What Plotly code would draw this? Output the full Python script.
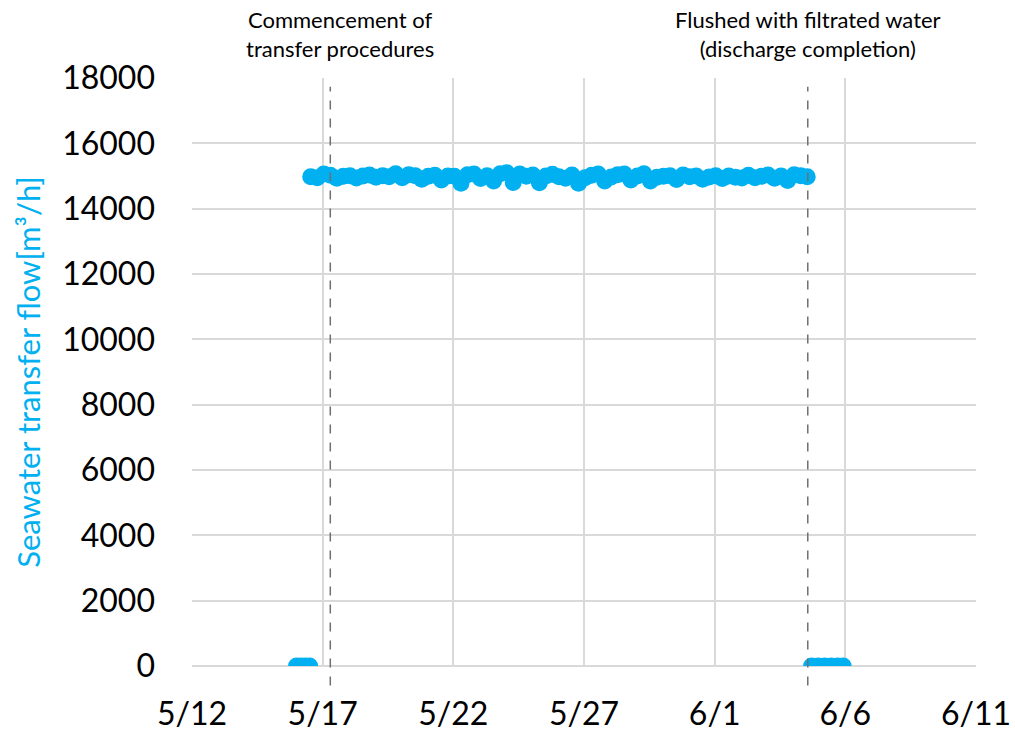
import pandas as pd
import plotly.graph_objects as go

# flow before transfer (all zero)
pre_times = ["2023-05-16 00:00", "2023-05-16 04:00", "2023-05-16 08:00", "2023-05-16 12:00"]
pre_flow = [0, 0, 0, 0]

# transfer period, one reading every 6 hours from 5/16 13:00 to 6/4 13:00
flow_times = pd.date_range("2023-05-16 13:00", "2023-06-04 13:00", freq="6h")
flow = [
    14980, 14950, 15060, 15020, 14930, 14990, 15010, 14940,
    15000, 15030, 14960, 15010, 14980, 15070, 14950, 15040,
    15010, 14900, 14990, 15020, 14880, 15000, 14990, 14780,
    15040, 15060, 14920, 15010, 14850, 15070, 15100, 14800,
    15060, 14990, 15030, 14790, 15000, 15050, 14980, 14930,
    15030, 14780, 14950, 15020, 15060, 14850, 14970, 15040,
    15060, 14880, 15000, 15070, 14850, 14960, 14990, 15010,
    14890, 15030, 14980, 15000, 14900, 14970, 15010, 14920,
    15000, 14960, 14940, 15020, 14950, 14990, 15030, 14930,
    15000, 14860, 15040, 15010, 14980,
]

# after discharge completion (all zero)
post_times = ["2023-06-04 17:00", "2023-06-04 23:00", "2023-06-05 05:00",
              "2023-06-05 11:00", "2023-06-05 17:00", "2023-06-05 22:00"]
post_flow = [0, 0, 0, 0, 0, 0]

events = ["2023-05-17 07:00", "2023-06-04 13:30"]
event_labels = ["Commencement of<br>transfer procedures",
                "Flushed with filtrated water<br>(discharge completion)"]
event_label_x = ["2023-05-17 16:00", "2023-06-04 13:30"]

tick_dates = ["2023-05-12", "2023-05-17", "2023-05-22", "2023-05-27",
              "2023-06-01", "2023-06-06", "2023-06-11"]
tick_text = ["5/12", "5/17", "5/22", "5/27", "6/1", "6/6", "6/11"]

blue = "#00B0F0"
marker = dict(color=blue, size=17)

fig = go.Figure()
for xs, ys in [(pre_times, pre_flow), (list(flow_times), flow), (post_times, post_flow)]:
    fig.add_trace(go.Scatter(x=xs, y=ys, mode="markers", marker=marker,
                             showlegend=False, hoverinfo="x+y"))

for d in events:
    fig.add_shape(type="line", x0=d, x1=d, xref="x", yref="paper", y0=-0.033, y1=0.985,
                  line=dict(color="#707070", width=1.5, dash="dash"))

for lx, txt in zip(event_label_x, event_labels):
    fig.add_annotation(x=lx, y=1.0, xref="x", yref="paper", yanchor="bottom", yshift=14,
                       text=txt, showarrow=False, font=dict(size=22, color="black"))

fig.update_xaxes(
    range=["2023-05-12", "2023-06-11"],
    tickvals=tick_dates, ticktext=tick_text,
    showgrid=True, gridcolor="#d9d9d9", gridwidth=1.5,
    showline=False, zeroline=False, automargin=False,
    tickfont=dict(size=32, color="black"),
    ticklabelstandoff=26,
)
fig.update_yaxes(
    range=[0, 18000], dtick=2000, tickformat="d",
    showgrid=True, gridcolor="#d9d9d9", gridwidth=1.5,
    zeroline=True, zerolinecolor="#d9d9d9", zerolinewidth=1.5, automargin=False,
    tickfont=dict(size=32, color="black"),
    ticklabelstandoff=36,
    title=dict(text="Seawater transfer flow[m³/h]", font=dict(size=31, color=blue), standoff=12),
)
fig.update_layout(
    width=1015, height=737,
    margin=dict(l=192, r=39, t=78, b=71),
    plot_bgcolor="white", paper_bgcolor="white",
    font=dict(family="Lato, Open Sans, sans-serif"),
)
# drop the default body margin so the figure sits at the window's top-left corner
fig.write_html("out.html", config={"displayModeBar": False},
               post_script="document.body.style.margin='0';")
